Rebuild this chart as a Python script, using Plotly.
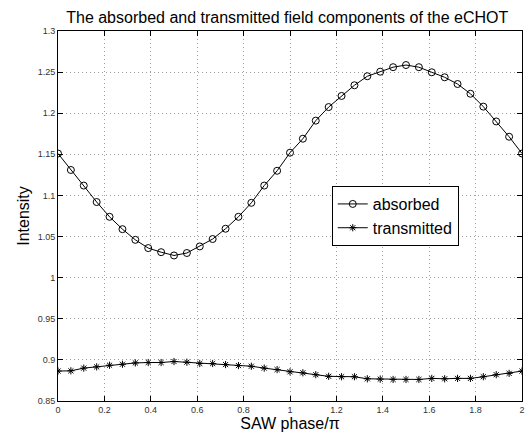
import plotly.graph_objects as go

phase = [i / 18 for i in range(37)]
absorbed = [1.151, 1.131, 1.112, 1.092, 1.074, 1.059, 1.046, 1.036, 1.031, 1.027,
            1.030, 1.038, 1.047, 1.0595, 1.074, 1.091, 1.112, 1.130, 1.152, 1.169,
            1.191, 1.2075, 1.221, 1.234, 1.245, 1.2505, 1.256, 1.2586, 1.256, 1.2498,
            1.2437, 1.2355, 1.2237, 1.208, 1.190, 1.1714, 1.151]
transmitted = [0.8864, 0.8867, 0.890, 0.8915, 0.8935, 0.8947, 0.8963, 0.8968, 0.8968, 0.898,
               0.8972, 0.8956, 0.8956, 0.8943, 0.8931, 0.8923, 0.890, 0.8882, 0.8855, 0.8843,
               0.882, 0.880, 0.8795, 0.8795, 0.877, 0.8766, 0.8762, 0.8762, 0.8762, 0.8775,
               0.8770, 0.8775, 0.8775, 0.8795, 0.882, 0.8836, 0.8864]
x_ticks = [0, 0.2, 0.4, 0.6, 0.8, 1, 1.2, 1.4, 1.6, 1.8, 2]
x_labels = ["0", "0.2", "0.4", "0.6", "0.8", "1", "1.2", "1.4", "1.6", "1.8", "2"]
y_ticks = [0.85, 0.9, 0.95, 1, 1.05, 1.1, 1.15, 1.2, 1.25, 1.3]
y_labels = ["0.85", "0.9", "0.95", "1", "1.05", "1.1", "1.15", "1.2", "1.25", "1.3"]

FONT = "Liberation Sans, Arial, Helvetica, sans-serif"

fig = go.Figure()
fig.add_trace(go.Scatter(x=phase, y=absorbed, name="absorbed", mode="lines+markers",
                         line=dict(color="black", width=1),
                         marker=dict(symbol="circle-open", size=7, color="black",
                                     line=dict(width=1, color="black"))))
fig.add_trace(go.Scatter(x=phase, y=transmitted, name="transmitted", mode="lines+markers",
                         line=dict(color="black", width=1),
                         marker=dict(symbol="asterisk-open", size=6, color="black",
                                     line=dict(width=1, color="black"))))

axis_common = dict(showline=True, linecolor="black", linewidth=1, mirror="ticks",
                   ticks="inside", ticklen=5, tickcolor="black", tickwidth=1,
                   showgrid=True, gridcolor="#a0a0a0", griddash="1px,3px", gridwidth=1,
                   zeroline=False, ticklabeloverflow="allow",
                   tickfont=dict(size=9, color="#333333", family=FONT))

fig.update_xaxes(range=[0, 2], tickvals=x_ticks, ticktext=x_labels,
                 title=dict(text="SAW phase/π", font=dict(size=16, color="black", family=FONT),
                            standoff=0), **axis_common)
fig.update_yaxes(range=[0.85, 1.3], tickvals=y_ticks, ticktext=y_labels,
                 title=dict(text="Intensity", font=dict(size=16, color="black", family=FONT),
                            standoff=4), **axis_common)

fig.update_layout(
    width=527, height=440,
    margin=dict(l=57.5, r=4.5, t=31, b=39, autoexpand=False),
    paper_bgcolor="white", plot_bgcolor="white",
    font=dict(family=FONT, color="black"),
    title=dict(text="The absorbed and transmitted field components of the eCHOT",
               x=0.545, xanchor="center", y=0.961, yanchor="middle",
               font=dict(size=16, color="black", family=FONT)),
    legend=dict(x=0.59, y=0.581, xanchor="left", yanchor="top",
                bgcolor="white", bordercolor="black", borderwidth=1,
                font=dict(size=16, color="black", family=FONT),
                itemwidth=30, tracegroupgap=0),
    showlegend=True,
)

fig.write_html("out.html", config={"displayModeBar": False},
               post_script="document.body.style.margin='0';document.body.style.overflow='hidden';")
